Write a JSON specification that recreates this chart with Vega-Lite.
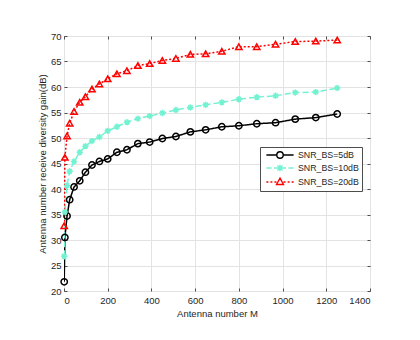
{
  "$schema": "https://vega.github.io/schema/vega-lite/v6.json",
  "width": 306,
  "height": 255,
  "autosize": {"type": "none"},
  "padding": {"left": 64, "top": 36, "right": 50, "bottom": 49},
  "background": "white",
  "config": {
    "font": "Liberation Sans",
    "view": {"stroke": "#4d4d4d", "strokeWidth": 1},
    "axis": {
      "labelFont": "Liberation Sans",
      "titleFont": "Liberation Sans",
      "labelFontSize": 9.5,
      "titleFontSize": 9.5,
      "titleFontWeight": "normal",
      "labelColor": "#262626",
      "titleColor": "#262626",
      "domainColor": "#4d4d4d",
      "tickColor": "#4d4d4d",
      "gridColor": "#e3e3e3",
      "gridWidth": 1
    },
    "legend": {
      "title": null,
      "orient": "none",
      "legendX": 196,
      "legendY": 111,
      "padding": 3,
      "strokeColor": "#4d4d4d",
      "fillColor": "white",
      "cornerRadius": 0,
      "labelFont": "Liberation Sans",
      "labelFontSize": 8.8,
      "labelColor": "#262626",
      "symbolSize": 64,
      "symbolOffset": 12,
      "labelOffset": 13,
      "rowPadding": 0
    }
  },
  "data": {
    "values": [
      {"M": 1, "gain": 21.8, "series": "SNR_BS=5dB"},
      {"M": 4, "gain": 30.5, "series": "SNR_BS=5dB"},
      {"M": 14, "gain": 34.7, "series": "SNR_BS=5dB"},
      {"M": 26, "gain": 37.9, "series": "SNR_BS=5dB"},
      {"M": 46, "gain": 40.4, "series": "SNR_BS=5dB"},
      {"M": 72, "gain": 41.6, "series": "SNR_BS=5dB"},
      {"M": 98, "gain": 43.3, "series": "SNR_BS=5dB"},
      {"M": 128, "gain": 44.7, "series": "SNR_BS=5dB"},
      {"M": 162, "gain": 45.4, "series": "SNR_BS=5dB"},
      {"M": 200, "gain": 45.9, "series": "SNR_BS=5dB"},
      {"M": 242, "gain": 47.2, "series": "SNR_BS=5dB"},
      {"M": 288, "gain": 47.7, "series": "SNR_BS=5dB"},
      {"M": 338, "gain": 48.9, "series": "SNR_BS=5dB"},
      {"M": 392, "gain": 49.2, "series": "SNR_BS=5dB"},
      {"M": 450, "gain": 49.9, "series": "SNR_BS=5dB"},
      {"M": 512, "gain": 50.3, "series": "SNR_BS=5dB"},
      {"M": 578, "gain": 51.2, "series": "SNR_BS=5dB"},
      {"M": 648, "gain": 51.6, "series": "SNR_BS=5dB"},
      {"M": 722, "gain": 52.2, "series": "SNR_BS=5dB"},
      {"M": 800, "gain": 52.4, "series": "SNR_BS=5dB"},
      {"M": 882, "gain": 52.8, "series": "SNR_BS=5dB"},
      {"M": 968, "gain": 53.0, "series": "SNR_BS=5dB"},
      {"M": 1058, "gain": 53.7, "series": "SNR_BS=5dB"},
      {"M": 1152, "gain": 54.0, "series": "SNR_BS=5dB"},
      {"M": 1250, "gain": 54.7, "series": "SNR_BS=5dB"},
      {"M": 1, "gain": 26.8, "series": "SNR_BS=10dB"},
      {"M": 4, "gain": 35.5, "series": "SNR_BS=10dB"},
      {"M": 14, "gain": 40.7, "series": "SNR_BS=10dB"},
      {"M": 26, "gain": 43.5, "series": "SNR_BS=10dB"},
      {"M": 46, "gain": 45.4, "series": "SNR_BS=10dB"},
      {"M": 72, "gain": 47.2, "series": "SNR_BS=10dB"},
      {"M": 98, "gain": 48.4, "series": "SNR_BS=10dB"},
      {"M": 128, "gain": 49.4, "series": "SNR_BS=10dB"},
      {"M": 162, "gain": 50.2, "series": "SNR_BS=10dB"},
      {"M": 200, "gain": 51.4, "series": "SNR_BS=10dB"},
      {"M": 242, "gain": 52.2, "series": "SNR_BS=10dB"},
      {"M": 288, "gain": 53.1, "series": "SNR_BS=10dB"},
      {"M": 338, "gain": 53.8, "series": "SNR_BS=10dB"},
      {"M": 392, "gain": 54.3, "series": "SNR_BS=10dB"},
      {"M": 450, "gain": 54.9, "series": "SNR_BS=10dB"},
      {"M": 512, "gain": 55.5, "series": "SNR_BS=10dB"},
      {"M": 578, "gain": 56.0, "series": "SNR_BS=10dB"},
      {"M": 648, "gain": 56.5, "series": "SNR_BS=10dB"},
      {"M": 722, "gain": 57.0, "series": "SNR_BS=10dB"},
      {"M": 800, "gain": 57.6, "series": "SNR_BS=10dB"},
      {"M": 882, "gain": 58.0, "series": "SNR_BS=10dB"},
      {"M": 968, "gain": 58.3, "series": "SNR_BS=10dB"},
      {"M": 1058, "gain": 58.9, "series": "SNR_BS=10dB"},
      {"M": 1152, "gain": 59.0, "series": "SNR_BS=10dB"},
      {"M": 1250, "gain": 59.8, "series": "SNR_BS=10dB"},
      {"M": 1, "gain": 32.8, "series": "SNR_BS=20dB"},
      {"M": 4, "gain": 46.2, "series": "SNR_BS=20dB"},
      {"M": 14, "gain": 50.4, "series": "SNR_BS=20dB"},
      {"M": 26, "gain": 52.9, "series": "SNR_BS=20dB"},
      {"M": 46, "gain": 55.2, "series": "SNR_BS=20dB"},
      {"M": 72, "gain": 57.0, "series": "SNR_BS=20dB"},
      {"M": 98, "gain": 58.1, "series": "SNR_BS=20dB"},
      {"M": 128, "gain": 59.6, "series": "SNR_BS=20dB"},
      {"M": 162, "gain": 60.6, "series": "SNR_BS=20dB"},
      {"M": 200, "gain": 61.6, "series": "SNR_BS=20dB"},
      {"M": 242, "gain": 62.6, "series": "SNR_BS=20dB"},
      {"M": 288, "gain": 63.2, "series": "SNR_BS=20dB"},
      {"M": 338, "gain": 64.2, "series": "SNR_BS=20dB"},
      {"M": 392, "gain": 64.6, "series": "SNR_BS=20dB"},
      {"M": 450, "gain": 65.2, "series": "SNR_BS=20dB"},
      {"M": 512, "gain": 65.6, "series": "SNR_BS=20dB"},
      {"M": 578, "gain": 66.4, "series": "SNR_BS=20dB"},
      {"M": 648, "gain": 66.5, "series": "SNR_BS=20dB"},
      {"M": 722, "gain": 67.0, "series": "SNR_BS=20dB"},
      {"M": 800, "gain": 67.9, "series": "SNR_BS=20dB"},
      {"M": 882, "gain": 67.9, "series": "SNR_BS=20dB"},
      {"M": 968, "gain": 68.4, "series": "SNR_BS=20dB"},
      {"M": 1058, "gain": 68.9, "series": "SNR_BS=20dB"},
      {"M": 1152, "gain": 69.0, "series": "SNR_BS=20dB"},
      {"M": 1250, "gain": 69.2, "series": "SNR_BS=20dB"}
    ]
  },
  "resolve": {"axis": {"x": "independent", "y": "independent"}},
  "layer": [
    {
      "mark": {"type": "line", "strokeWidth": 1.5, "clip": true},
      "encoding": {
        "x": {
          "field": "M", "type": "quantitative",
          "scale": {"domain": [0, 1400], "nice": false, "zero": false},
          "axis": {"title": "Antenna number M", "format": "d", "values": [0, 200, 400, 600, 800, 1000, 1200, 1400], "tickSize": -3, "labelPadding": 7, "titlePadding": 4, "grid": true, "domain": false}
        },
        "y": {
          "field": "gain", "type": "quantitative",
          "scale": {"domain": [20, 70], "nice": false, "zero": false},
          "axis": {"title": "Antenna number receive diversity gain(dB)", "format": "d", "values": [20, 25, 30, 35, 40, 45, 50, 55, 60, 65, 70], "tickSize": -3, "labelPadding": 6, "titlePadding": 3, "grid": true, "domain": false}
        },
        "color": {
          "field": "series", "type": "nominal",
          "scale": {"domain": ["SNR_BS=5dB", "SNR_BS=10dB", "SNR_BS=20dB"], "range": ["#000000", "#73F2D2", "#FF0000"]},
          "legend": {
            "encode": {
              "symbols": {
                "update": {
                  "strokeDash": {"value": []},
                  "strokeWidth": {"value": 1.4},
                  "fill": {"value": "transparent"},
                  "shape": {"signal": "datum.value === 'SNR_BS=5dB' ? 'M-3.4,0L-0.8,0M0.8,0L3.4,0M0.8,0A0.8,0.8 0 1,1 -0.8,0A0.8,0.8 0 1,1 0.8,0' : datum.value === 'SNR_BS=10dB' ? 'M-3.4,0L-2.1,0M-1.5,0L-0.9,0M0.9,0L1.5,0M2.1,0L3.4,0M-0.9,0L0.9,0M0,-0.9L0,0.9M-0.64,-0.64L0.64,0.64M-0.64,0.64L0.64,-0.64' : 'M-3.4,0L-2.9,0M-2.4,0L-1.9,0M-1.4,0L-0.9,0M0.9,0L1.4,0M1.9,0L2.4,0M2.9,0L3.4,0M0,-0.95L0.88,0.62L-0.88,0.62Z'"}
                }
              }
            }
          }
        },
        "strokeDash": {
          "field": "series", "type": "nominal",
          "scale": {"domain": ["SNR_BS=20dB", "SNR_BS=10dB", "SNR_BS=5dB"], "range": [[2, 2], [6, 3], [1, 0]]},
          "legend": null
        }
      }
    },
    {
      "mark": {"type": "point", "filled": false, "strokeWidth": 1.5, "size": 40, "opacity": 1},
      "encoding": {
        "x": {
          "field": "M", "type": "quantitative",
          "scale": {"domain": [0, 1400], "nice": false, "zero": false},
          "axis": {"title": null, "labels": false, "grid": false, "domain": false, "values": [0, 200, 400, 600, 800, 1000, 1200, 1400], "tickSize": -3}
        },
        "y": {
          "field": "gain", "type": "quantitative",
          "scale": {"domain": [20, 70], "nice": false, "zero": false},
          "axis": {"title": null, "labels": false, "grid": false, "domain": false, "values": [20, 25, 30, 35, 40, 45, 50, 55, 60, 65, 70], "tickSize": -3}
        },
        "color": {
          "field": "series", "type": "nominal",
          "legend": {
            "encode": {
              "symbols": {
                "update": {
                  "strokeDash": {"value": []},
                  "strokeWidth": {"value": 1.4},
                  "fill": {"value": "transparent"},
                  "shape": {"signal": "datum.value === 'SNR_BS=5dB' ? 'M-3.4,0L-0.8,0M0.8,0L3.4,0M0.8,0A0.8,0.8 0 1,1 -0.8,0A0.8,0.8 0 1,1 0.8,0' : datum.value === 'SNR_BS=10dB' ? 'M-3.4,0L-2.1,0M-1.5,0L-0.9,0M0.9,0L1.5,0M2.1,0L3.4,0M-0.9,0L0.9,0M0,-0.9L0,0.9M-0.64,-0.64L0.64,0.64M-0.64,0.64L0.64,-0.64' : 'M-3.4,0L-2.9,0M-2.4,0L-1.9,0M-1.4,0L-0.9,0M0.9,0L1.4,0M1.9,0L2.4,0M2.9,0L3.4,0M0,-0.95L0.88,0.62L-0.88,0.62Z'"}
                }
              }
            }
          }
        },
        "shape": {
          "field": "series", "type": "nominal",
          "scale": {"domain": ["SNR_BS=20dB", "SNR_BS=10dB", "SNR_BS=5dB"], "range": ["triangle-up", "M-1,0L1,0M0,-1L0,1M-0.7,-0.7L0.7,0.7M-0.7,0.7L0.7,-0.7", "circle"]},
          "legend": null
        }
      }
    }
  ]
}
